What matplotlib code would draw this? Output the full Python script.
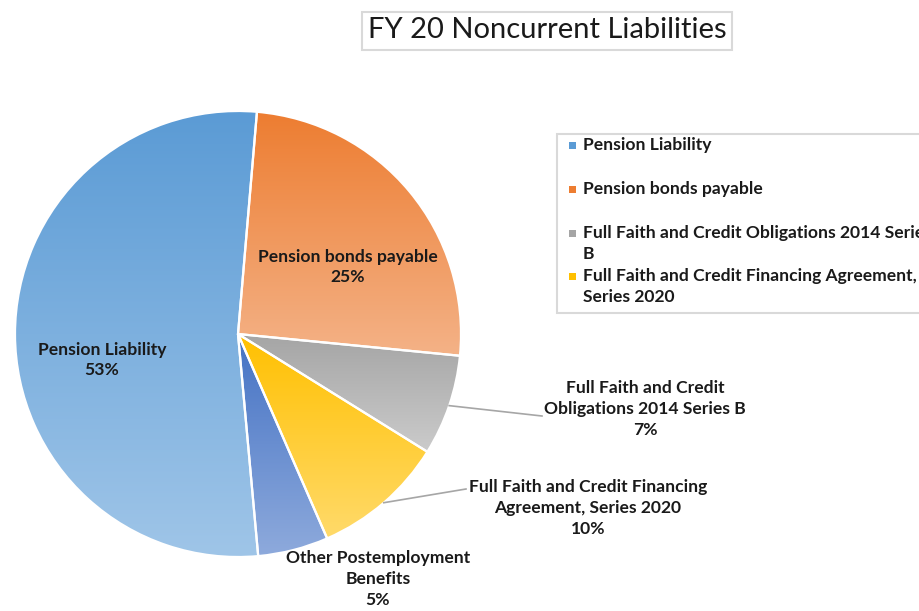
import numpy as np
import matplotlib
matplotlib.use("Agg")
import matplotlib.pyplot as plt
from matplotlib.colors import LinearSegmentedColormap
from matplotlib.patches import Rectangle

plt.rcParams['font.family'] = ['Lato', 'DejaVu Sans']

# data (shares, percent)
categories = ["Pension Liability", "Pension bonds payable",
              "Full Faith and Credit Obligations 2014 Series B",
              "Full Faith and Credit Financing Agreement, Series 2020",
              "Other Postemployment Benefits"]
values = [52.8, 25.2, 7.3, 9.6, 5.1]
pie_labels = ["Pension Liability", "Pension bonds payable",
              "Full Faith and Credit\nObligations 2014 Series B",
              "Full Faith and Credit Financing\nAgreement, Series 2020",
              "Other Postemployment\nBenefits"]
legend_labels = ["Pension Liability", "Pension bonds payable",
                 "Full Faith and Credit Obligations 2014 Series\nB",
                 "Full Faith and Credit Financing Agreement,\nSeries 2020"]
top_colors = ["#5B9BD5", "#ED7D31", "#A5A5A5", "#FFC000", "#4472C4"]
bot_colors = ["#9FC5E8", "#F4B287", "#CBCBCB", "#FFDA6A", "#8EAADC"]

W, H = 919, 611
def Y(y):
    return H - y

fig = plt.figure(figsize=(9.19, 6.11), dpi=100)
ax = fig.add_axes([0, 0, 1, 1])

cx, cy, r = 238, Y(334), 223
wedges, _ = ax.pie(values, startangle=-84.8, counterclock=False,
                   center=(cx, cy), radius=r,
                   wedgeprops=dict(edgecolor="white", linewidth=1.6))

# vertical gradient fill per slice
grad = np.linspace(0, 1, 256)[:, None]
for w, c0, c1 in zip(wedges, top_colors, bot_colors):
    bb = w.get_path().get_extents()
    cmap = LinearSegmentedColormap.from_list("g", [c0, c1])
    im = ax.imshow(grad, cmap=cmap, extent=(bb.x0, bb.x1, bb.y0, bb.y1),
                   aspect="auto", zorder=1)
    im.set_clip_path(w)
    w.set_facecolor("none")
    w.set_zorder(2)

ax.set_xlim(0, W)
ax.set_ylim(0, H)
ax.axis("off")

pct = [f"{v:.0f}%" for v in values]
lab_kw = dict(ha="center", va="center", fontsize=12.6, fontweight="bold",
              linespacing=1.38, color="#1a1a1a", zorder=5)

# labels inside
ax.text(102, Y(360), pie_labels[0] + "\n" + pct[0], **lab_kw)
ax.text(348, Y(267), pie_labels[1] + "\n" + pct[1], **lab_kw)
ax.text(378, Y(579), pie_labels[4] + "\n" + pct[4], **lab_kw)

# labels outside with leader lines
def edge_point(w):
    a = np.deg2rad((w.theta1 + w.theta2) / 2)
    return cx + r * np.cos(a), cy + r * np.sin(a)

for i, tx, ty, lx, ly in [(2, 645, 409, 542, 416), (3, 588, 508, 466, 489)]:
    ex, ey = edge_point(wedges[i])
    ax.plot([ex, lx], [ey, Y(ly)], color="#A6A6A6", lw=1.2, zorder=4)
    ax.text(tx, Y(ty), pie_labels[i] + "\n" + pct[i], **lab_kw)

# title
ax.add_patch(Rectangle((362, Y(50)), 370, 38, fc="white", ec="#D9D9D9", lw=1.5))
ax.text(547, Y(30), "FY 20 Noncurrent Liabilities", ha="center", va="center",
        fontsize=21, color="#1a1a1a")

# legend (cut off at the right edge)
ax.add_patch(Rectangle((557, Y(313)), 400, 179, fc="white", ec="#D9D9D9", lw=1.5))
for lab, col, ly in zip(legend_labels, top_colors, [145, 189, 233, 276]):
    ax.add_patch(Rectangle((569, Y(ly) - 3.5), 7, 7, fc=col, ec="none"))
    ax.text(583, Y(ly) + 8, lab, ha="left", va="top", fontsize=12.6,
            fontweight="bold", linespacing=1.38, color="#1a1a1a")

fig.savefig("out.png", dpi=100)
